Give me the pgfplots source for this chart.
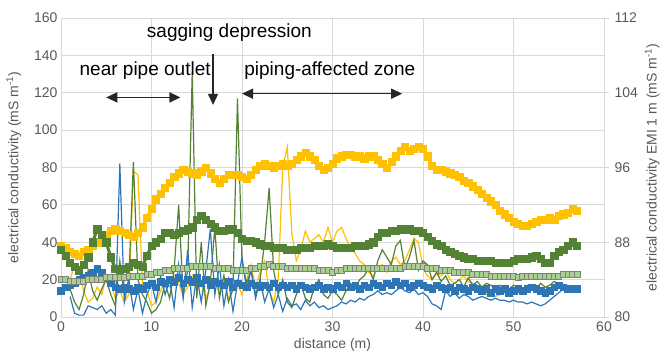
\documentclass[border=0pt]{standalone}
\usepackage{pgfplots}
\usepackage{pgfplotstable}
\pgfplotsset{compat=1.18}
\usetikzlibrary{arrows.meta}
\usepackage{fontspec}
\setmainfont{Liberation Sans}
\definecolor{cyel}{HTML}{FFC000}
\definecolor{cgrn}{HTML}{548235}
\definecolor{cblu}{HTML}{2E75B6}
\definecolor{clgr}{HTML}{A9D18E}
\definecolor{cgry}{HTML}{7F7F7F}
\definecolor{cgrid}{HTML}{D9D9D9}
\definecolor{ctxt}{HTML}{595959}

% EMI series (square markers), in left-axis units
\pgfplotstableread[row sep=\\]{
x y\\
0 38\\ 0.5 37\\ 1 35\\ 1.5 34\\ 2 33\\ 2.5 35\\ 3 36\\ 3.5 38\\ 4 40\\ 4.5 42\\
5 44\\ 5.5 46\\ 6 47\\ 6.5 46\\ 7 45\\ 7.5 44\\ 8 43\\ 8.5 45\\ 9 48\\ 9.5 53\\
10 58\\ 10.5 63\\ 11 66\\ 11.5 69\\ 12 72\\ 12.5 75\\ 13 77\\ 13.5 79\\ 14 78\\ 14.5 77\\
15 76\\ 15.5 78\\ 16 80\\ 16.5 77\\ 17 74\\ 17.5 72\\ 18 74\\ 18.5 76\\ 19 76\\ 19.5 76\\
20 75\\ 20.5 74\\ 21 76\\ 21.5 79\\ 22 81\\ 22.5 82\\ 23 81\\ 23.5 80\\ 24 81\\ 24.5 82\\
25 81\\ 25.5 82\\ 26 84\\ 26.5 86\\ 27 88\\ 27.5 86\\ 28 84\\ 28.5 81\\ 29 79\\ 29.5 80\\
30 82\\ 30.5 85\\ 31 86\\ 31.5 87\\ 32 87\\ 32.5 86\\ 33 86\\ 33.5 85\\ 34 86\\ 34.5 86\\
35 84\\ 35.5 82\\ 36 80\\ 36.5 83\\ 37 86\\ 37.5 89\\ 38 91\\ 38.5 89\\ 39 90\\ 39.5 91\\
40 90\\ 40.5 86\\ 41 81\\ 41.5 79\\ 42 79\\ 42.5 78\\ 43 77\\ 43.5 76\\ 44 75\\ 44.5 73\\
45 72\\ 45.5 70\\ 46 68\\ 46.5 66\\ 47 64\\ 47.5 62\\ 48 60\\ 48.5 57\\ 49 55\\ 49.5 53\\
50 51\\ 50.5 50\\ 51 49\\ 51.5 49\\ 52 50\\ 52.5 51\\ 53 52\\ 53.5 52\\ 54 53\\ 54.5 52\\
55 54\\ 55.5 55\\ 56 56\\ 56.5 58\\ 57 57\\
}\yelsq

\pgfplotstableread[row sep=\\]{
x y\\
0 36\\ 0.5 33\\ 1 29\\ 1.5 27\\ 2 25\\ 2.5 28\\ 3 32\\ 3.5 40\\ 4 47\\ 4.5 44\\
5 40\\ 5.5 32\\ 6 26\\ 6.5 25\\ 7 26\\ 7.5 27\\ 8 29\\ 8.5 28\\ 9 27\\ 9.5 33\\
10 38\\ 10.5 40\\ 11 42\\ 11.5 45\\ 12 45\\ 12.5 44\\ 13 45\\ 13.5 46\\ 14 47\\ 14.5 48\\
15 52\\ 15.5 54\\ 16 52\\ 16.5 50\\ 17 48\\ 17.5 46\\ 18 46\\ 18.5 47\\ 19 47\\ 19.5 45\\
20 42\\ 20.5 41\\ 21 41\\ 21.5 40\\ 22 39\\ 22.5 38\\ 23 38\\ 23.5 37\\ 24 37\\ 24.5 37\\
25 36\\ 25.5 36\\ 26 36\\ 26.5 37\\ 27 37\\ 27.5 37\\ 28 38\\ 28.5 38\\ 29 38\\ 29.5 39\\
30 38\\ 30.5 37\\ 31 37\\ 31.5 37\\ 32 37\\ 32.5 38\\ 33 38\\ 33.5 38\\ 34 39\\ 34.5 40\\
35 43\\ 35.5 45\\ 36 45\\ 36.5 46\\ 37 46\\ 37.5 47\\ 38 47\\ 38.5 47\\ 39 46\\ 39.5 46\\
40 45\\ 40.5 43\\ 41 41\\ 41.5 39\\ 42 38\\ 42.5 36\\ 43 35\\ 43.5 34\\ 44 33\\ 44.5 32\\
45 31\\ 45.5 31\\ 46 30\\ 46.5 30\\ 47 30\\ 47.5 30\\ 48 29\\ 48.5 29\\ 49 29\\ 49.5 29\\
50 30\\ 50.5 31\\ 51 31\\ 51.5 31\\ 52 32\\ 52.5 33\\ 53 31\\ 53.5 29\\ 54 29\\ 54.5 33\\
55 35\\ 55.5 36\\ 56 38\\ 56.5 40\\ 57 38\\
}\grnsq

\pgfplotstableread[row sep=\\]{
x y\\
0 20\\ 0.5 20\\ 1 19\\ 1.5 19\\ 2 19\\ 2.5 19\\ 3 20\\ 3.5 20\\ 4 20\\ 4.5 20\\
5 21\\ 5.5 21\\ 6 21\\ 6.5 21\\ 7 21\\ 7.5 22\\ 8 22\\ 8.5 22\\ 9 22\\ 9.5 23\\
10 23\\ 10.5 24\\ 11 24\\ 11.5 25\\ 12 25\\ 12.5 26\\ 13 26\\ 13.5 26\\ 14 26\\ 14.5 27\\
15 27\\ 15.5 27\\ 16 27\\ 16.5 27\\ 17 26\\ 17.5 26\\ 18 26\\ 18.5 26\\ 19 25\\ 19.5 25\\
20 25\\ 20.5 25\\ 21 26\\ 21.5 26\\ 22 27\\ 22.5 27\\ 23 28\\ 23.5 27\\ 24 27\\ 24.5 27\\
25 26\\ 25.5 26\\ 26 26\\ 26.5 26\\ 27 26\\ 27.5 26\\ 28 26\\ 28.5 25\\ 29 25\\ 29.5 25\\
30 24\\ 30.5 25\\ 31 25\\ 31.5 26\\ 32 26\\ 32.5 26\\ 33 26\\ 33.5 26\\ 34 26\\ 34.5 26\\
35 26\\ 35.5 26\\ 36 26\\ 36.5 26\\ 37 26\\ 37.5 26\\ 38 27\\ 38.5 27\\ 39 27\\ 39.5 27\\
40 27\\ 40.5 26\\ 41 26\\ 41.5 26\\ 42 25\\ 42.5 25\\ 43 25\\ 43.5 24\\ 44 24\\ 44.5 24\\
45 24\\ 45.5 23\\ 46 23\\ 46.5 23\\ 47 23\\ 47.5 22\\ 48 22\\ 48.5 22\\ 49 22\\ 49.5 22\\
50 22\\ 50.5 21\\ 51 22\\ 51.5 22\\ 52 22\\ 52.5 22\\ 53 22\\ 53.5 22\\ 54 22\\ 54.5 22\\
55 22\\ 55.5 23\\ 56 23\\ 56.5 23\\ 57 23\\
}\grysq

\pgfplotstableread[row sep=\\]{
x y\\
0 14\\ 0.5 16\\ 1 17\\ 1.5 18\\ 2 20\\ 2.5 21\\ 3 22\\ 3.5 24\\ 4 26\\ 4.5 24\\
5 21\\ 5.5 18\\ 6 16\\ 6.5 15\\ 7 16\\ 7.5 15\\ 8 14\\ 8.5 16\\ 9 15\\ 9.5 17\\
10 18\\ 10.5 16\\ 11 19\\ 11.5 18\\ 12 20\\ 12.5 19\\ 13 21\\ 13.5 18\\ 14 20\\ 14.5 19\\
15 21\\ 15.5 18\\ 16 20\\ 16.5 17\\ 17 19\\ 17.5 18\\ 18 17\\ 18.5 19\\ 19 16\\ 19.5 18\\
20 17\\ 20.5 16\\ 21 18\\ 21.5 17\\ 22 16\\ 22.5 17\\ 23 16\\ 23.5 18\\ 24 16\\ 24.5 17\\
25 16\\ 25.5 17\\ 26 15\\ 26.5 17\\ 27 16\\ 27.5 15\\ 28 16\\ 28.5 17\\ 29 15\\ 29.5 16\\
30 15\\ 30.5 17\\ 31 16\\ 31.5 18\\ 32 16\\ 32.5 17\\ 33 15\\ 33.5 17\\ 34 16\\ 34.5 18\\
35 17\\ 35.5 16\\ 36 18\\ 36.5 17\\ 37 19\\ 37.5 17\\ 38 18\\ 38.5 16\\ 39 17\\ 39.5 18\\
40 17\\ 40.5 16\\ 41 15\\ 41.5 17\\ 42 16\\ 42.5 15\\ 43 16\\ 43.5 14\\ 44 16\\ 44.5 15\\
45 14\\ 45.5 16\\ 46 15\\ 46.5 14\\ 47 15\\ 47.5 13\\ 48 15\\ 48.5 14\\ 49 15\\ 49.5 13\\
50 14\\ 50.5 15\\ 51 14\\ 51.5 15\\ 52 16\\ 52.5 15\\ 53 14\\ 53.5 13\\ 54 14\\ 54.5 16\\
55 17\\ 55.5 16\\ 56 15\\ 56.5 15\\ 57 15\\
}\blusq

% thin-line series (left axis)
\pgfplotstableread[row sep=\\]{
x y\\
1 20\\ 1.5 28\\ 2 24\\ 2.5 14\\ 3 8\\ 3.5 10\\ 4 16\\ 4.5 12\\ 5 22\\ 5.5 18\\
6 10\\ 6.5 14\\ 7 8\\ 7.5 12\\ 8 78\\ 8.5 76\\ 9 18\\ 9.5 14\\ 10 6\\ 10.5 8\\
11 14\\ 11.5 20\\ 12 16\\ 12.5 22\\ 13 18\\ 13.5 12\\ 14 16\\ 14.5 22\\ 15 14\\ 15.5 18\\
16 10\\ 16.5 16\\ 17 20\\ 17.5 12\\ 18 22\\ 18.5 10\\ 19 14\\ 19.5 18\\ 20 12\\ 20.5 20\\
21 28\\ 21.5 16\\ 22 24\\ 22.5 30\\ 23 14\\ 23.5 8\\ 24 20\\ 24.5 80\\ 25 91\\ 25.5 45\\
26 30\\ 26.5 36\\ 27 46\\ 27.5 40\\ 28 42\\ 28.5 44\\ 29 40\\ 29.5 48\\ 30 40\\ 30.5 46\\
31 48\\ 31.5 42\\ 32 37\\ 32.5 34\\ 33 30\\ 33.5 28\\ 34 24\\ 34.5 22\\ 35 26\\ 35.5 28\\
36 24\\ 36.5 30\\ 37 32\\ 37.5 28\\ 38 30\\ 38.5 36\\ 39 42\\ 39.5 40\\ 40 26\\ 40.5 22\\
41 20\\ 41.5 23\\ 42 22\\ 42.5 25\\ 43 20\\ 43.5 18\\ 44 20\\ 44.5 22\\ 45 19\\ 45.5 18\\
46 16\\ 46.5 14\\ 47 12\\ 47.5 11\\ 48 11\\ 48.5 12\\ 49 13\\ 49.5 12\\ 50 12\\ 50.5 13\\
51 14\\ 51.5 14\\ 52 16\\ 52.5 17\\ 53 14\\ 53.5 12\\
}\yelln

\pgfplotstableread[row sep=\\]{
x y\\
1 15\\ 1.5 8\\ 2 4\\ 2.5 12\\ 3 25\\ 3.5 14\\ 4 9\\ 4.5 15\\ 5 20\\ 5.5 12\\
6 6\\ 6.5 30\\ 7 12\\ 7.5 20\\ 8 83\\ 8.5 20\\ 9 12\\ 9.5 8\\ 10 2\\ 10.5 4\\
11 8\\ 11.5 18\\ 12 10\\ 12.5 25\\ 13 60\\ 13.5 12\\ 14 25\\ 14.5 131\\ 15 10\\ 15.5 40\\
16 6\\ 16.5 18\\ 17 48\\ 17.5 10\\ 18 22\\ 18.5 8\\ 19 15\\ 19.5 117\\ 20 30\\ 20.5 18\\
21 25\\ 21.5 12\\ 22 20\\ 22.5 40\\ 23 69\\ 23.5 25\\ 24 12\\ 24.5 20\\ 25 8\\ 25.5 5\\
26 12\\ 26.5 18\\ 27 10\\ 27.5 8\\ 28 16\\ 28.5 20\\ 29 12\\ 29.5 10\\ 30 14\\ 30.5 12\\
31 9\\ 31.5 14\\ 32 18\\ 32.5 15\\ 33 20\\ 33.5 22\\ 34 26\\ 34.5 20\\ 35 30\\ 35.5 36\\
36 32\\ 36.5 28\\ 37 38\\ 37.5 41\\ 38 26\\ 38.5 32\\ 39 41\\ 39.5 25\\ 40 30\\ 40.5 28\\
41 20\\ 41.5 24\\ 42 19\\ 42.5 22\\ 43 17\\ 43.5 18\\ 44 20\\ 44.5 16\\ 45 21\\ 45.5 17\\
46 19\\ 46.5 16\\ 47 18\\ 47.5 17\\ 48 15\\ 48.5 17\\ 49 16\\ 49.5 15\\ 50 17\\ 50.5 16\\
51 15\\ 51.5 17\\ 52 16\\ 52.5 15\\ 53 18\\ 53.5 16\\ 54 17\\ 54.5 19\\ 55 18\\
}\grnln

\pgfplotstableread[row sep=\\]{
x y\\
1 11\\ 1.5 2\\ 2 1\\ 2.5 1\\ 3 6\\ 3.5 5\\ 4 4\\ 4.5 6\\ 5 2\\ 5.5 4\\
6 1\\ 6.5 82\\ 7 8\\ 7.5 20\\ 8 4\\ 8.5 15\\ 9 2\\ 9.5 12\\ 10 18\\ 10.5 8\\
11 22\\ 11.5 12\\ 12 20\\ 12.5 5\\ 13 28\\ 13.5 10\\ 14 36\\ 14.5 5\\ 15 22\\ 15.5 8\\
16 25\\ 16.5 47\\ 17 12\\ 17.5 28\\ 18 6\\ 18.5 20\\ 19 3\\ 19.5 18\\ 20 32\\ 20.5 15\\
21 25\\ 21.5 10\\ 22 20\\ 22.5 8\\ 23 15\\ 23.5 5\\ 24 12\\ 24.5 3\\ 25 10\\ 25.5 6\\
26 7\\ 26.5 4\\ 27 9\\ 27.5 6\\ 28 8\\ 28.5 5\\ 29 6\\ 29.5 4\\ 30 5\\ 30.5 6\\
31 8\\ 31.5 7\\ 32 9\\ 32.5 8\\ 33 10\\ 33.5 9\\ 34 11\\ 34.5 12\\ 35 14\\ 35.5 12\\
36 13\\ 36.5 12\\ 37 14\\ 37.5 16\\ 38 14\\ 38.5 13\\ 39 15\\ 39.5 12\\ 40 13\\ 40.5 11\\
41 7\\ 41.5 6\\ 42 4\\ 42.5 14\\ 43 11\\ 43.5 13\\ 44 10\\ 44.5 12\\ 45 11\\ 45.5 9\\
46 10\\ 46.5 11\\ 47 10\\ 47.5 9\\ 48 10\\ 48.5 9\\ 49 9\\ 49.5 8\\ 50 9\\ 50.5 8\\
51 8\\ 51.5 7\\ 52 8\\ 52.5 7\\ 53 6\\ 53.5 7\\ 54 9\\ 54.5 11\\ 55 13\\ 55.5 15\\ 56 15\\
}\bluln

\begin{document}
\begin{tikzpicture}
\pgfplotsset{
  common/.style={
    scale only axis, width=543pt, height=299pt,
    xmin=0, xmax=60,
    tick label style={font=\fontsize{14}{16}\selectfont, text=ctxt},
    label style={font=\fontsize{14}{16}\selectfont, text=ctxt},
    /pgf/number format/assume math mode=true,
  }
}
\begin{axis}[common,
  ymin=0, ymax=160,
  xtick={0,10,...,60}, ytick={0,20,...,160},
  axis x line*=bottom, axis y line*=left,
  axis line style={cgrid, line width=0.8pt, -},
  grid=major, major grid style={cgrid, line width=0.8pt},
  major tick length=0pt,
  xlabel={distance (m)},
  ylabel={electrical conductivity (mS m\textsuperscript{-1})},
  xlabel style={yshift=0pt},
  ylabel style={yshift=6pt},
  xticklabel style={yshift=-1pt},
]
\coordinate (bl) at (rel axis cs:0,0);
\coordinate (tr) at (rel axis cs:1,1);
% thin lines
\addplot[cyel, line width=1.2pt, sharp plot] table {\yelln};
\addplot[cgrn, line width=1.2pt, sharp plot] table {\grnln};
\addplot[cblu, line width=1.2pt, sharp plot] table {\bluln};
% EMI square series
\addplot[cyel, line width=3pt, mark=square*, mark size=3.6pt, mark options={fill=cyel, draw=cyel, line width=0.4pt}] table {\yelsq};
\addplot[cgrn, line width=3pt, mark=square*, mark size=3.6pt, mark options={fill=cgrn, draw=cgrn, line width=0.4pt}] table {\grnsq};
\addplot[cblu, line width=3pt, mark=square*, mark size=3.3pt, mark options={fill=cblu, draw=cblu, line width=0.4pt}] table {\blusq};
\addplot[cgry, line width=2pt, mark=square*, mark size=3pt, mark options={fill=clgr, draw=cgry, line width=0.6pt}] table {\grysq};
% annotations
\node[font=\fontsize{19}{22}\selectfont, text=black] at (axis cs:18.6,152) {sagging depression};
\node[font=\fontsize{19}{22}\selectfont, text=black] at (axis cs:9.3,132) {near pipe outlet};
\node[font=\fontsize{19}{22}\selectfont, text=black] at (axis cs:29.7,132) {piping-affected zone};
\draw[black!85, line width=1.4pt, -{Triangle[length=11pt,width=10pt]}] (axis cs:16.8,140.5) -- (axis cs:16.8,113.5);
\draw[black!85, line width=1.4pt, {Triangle[length=11pt,width=10pt]}-{Triangle[length=11pt,width=10pt]}] (axis cs:5.0,117.5) -- (axis cs:13.2,117.5);
\draw[black!85, line width=1.4pt, {Triangle[length=11pt,width=10pt]}-{Triangle[length=11pt,width=10pt]}] (axis cs:20.0,119.5) -- (axis cs:37.7,119.5);
\end{axis}
\begin{axis}[common,
  ymin=80, ymax=112, ytick={80,88,...,112},
  axis x line=none, axis y line*=right,
  axis line style={cgrid, line width=0.8pt, -},
  ytick style={cgrid, line width=0.8pt},
  tick align=outside, major tick length=5pt,
  yticklabel style={xshift=2pt},
  ylabel={electrical conductivity EMI 1 m (mS m\textsuperscript{-1})},
  ylabel style={yshift=0pt},
]
\end{axis}
\pgfresetboundingbox
\path ([shift={(-61pt,-41pt)}]bl) rectangle ([shift={(59pt,18pt)}]tr);
\end{tikzpicture}
\end{document}
